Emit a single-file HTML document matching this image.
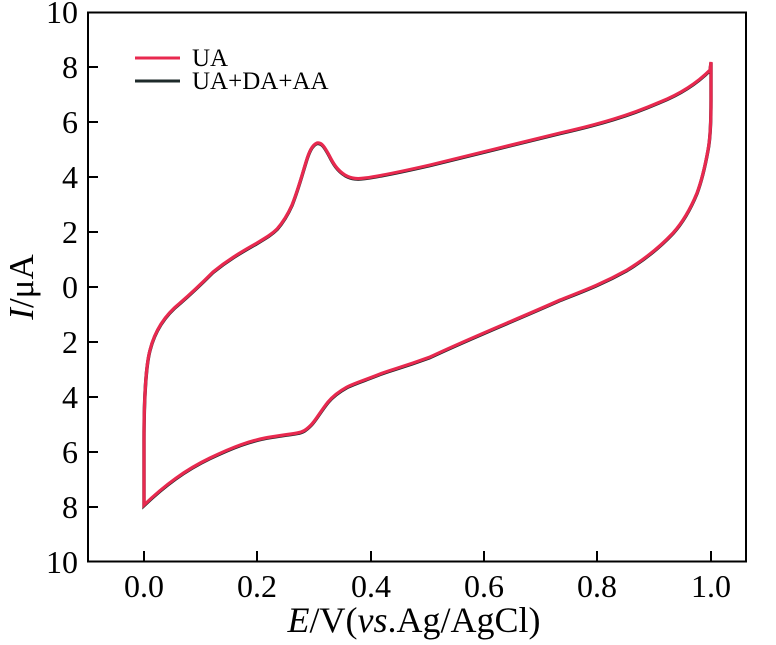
<!DOCTYPE html>
<html><head><meta charset="utf-8"><style>
body{margin:0;background:#fff}
svg text{font-family:"Liberation Serif",serif;fill:#000}
</style></head><body>
<svg width="776" height="640" viewBox="0 0 776 640" xmlns="http://www.w3.org/2000/svg">
<rect x="88" y="12.5" width="658" height="549" fill="none" stroke="#000" stroke-width="2"/>
<g stroke="#000" stroke-width="2">
<line x1="88" y1="67" x2="98" y2="67"/><line x1="88" y1="122" x2="98" y2="122"/>
<line x1="88" y1="177" x2="98" y2="177"/><line x1="88" y1="232" x2="98" y2="232"/>
<line x1="88" y1="287" x2="98" y2="287"/><line x1="88" y1="342" x2="98" y2="342"/>
<line x1="88" y1="397" x2="98" y2="397"/><line x1="88" y1="452" x2="98" y2="452"/>
<line x1="88" y1="507" x2="98" y2="507"/>
<line x1="144" y1="561" x2="144" y2="551"/><line x1="257" y1="561" x2="257" y2="551"/>
<line x1="371" y1="561" x2="371" y2="551"/><line x1="484" y1="561" x2="484" y2="551"/>
<line x1="597" y1="561" x2="597" y2="551"/><line x1="711" y1="561" x2="711" y2="551"/>
</g>
<g font-size="32" text-anchor="end">
<text x="78" y="23">10</text><text x="78" y="78">8</text><text x="78" y="133">6</text>
<text x="78" y="188">4</text><text x="78" y="243">2</text><text x="78" y="298">0</text>
<text x="78" y="353">2</text><text x="78" y="408">4</text><text x="78" y="463">6</text>
<text x="78" y="518">8</text><text x="78" y="573">10</text>
</g>
<g font-size="32" text-anchor="middle">
<text x="144" y="597">0.0</text><text x="257" y="597">0.2</text><text x="371" y="597">0.4</text>
<text x="484" y="597">0.6</text><text x="597" y="597">0.8</text><text x="711" y="597">1.0</text>
</g>
<text x="414" y="632" font-size="36" text-anchor="middle"><tspan font-style="italic">E</tspan>/V(<tspan font-style="italic">vs</tspan>.Ag/AgCl)</text>
<text transform="translate(33,287) rotate(-90)" font-size="35" text-anchor="middle"><tspan font-style="italic">I</tspan>/μA</text>
<line x1="135" y1="58" x2="180" y2="58" stroke="#e8294f" stroke-width="3"/>
<line x1="135" y1="81" x2="180" y2="81" stroke="#1e2a2a" stroke-width="3"/>
<text x="192" y="66" font-size="25">UA</text>
<text x="192" y="89" font-size="25">UA+DA+AA</text>
<path d="M144,505 L144,440 C144,400 146,365 150,350 C155,330 165,315 180,303 C195,290 205,280 213,272 C230,258 245,250 257,243 C267,237 272,234 277,229 C284,221 288,214 292,205 C298,190 302,175 306,162 C309,152 312,145 317,143 C322,142 325,148 329,155 C333,163 337,170 345,175 C352,179 358,179 365,178 C380,176 395,173 430,165 C470,155 520,143 560,133 C600,124 630,115 660,102 C685,92 700,80 710,70 L711,62 L711,100 C711,125 710,140 708,150 C704,172 700,185 697,193 C690,210 682,223 673,233 C657,250 640,262 627,270 C600,285 580,292 560,300 C520,318 470,338 430,357 C400,368 390,370 380,374 C365,380 355,383 347,387 C338,392 333,396 328,402 C320,412 316,420 311,425 C306,430 303,432 297,433 C285,435 275,436 265,438 C250,441 235,446 210,458 C185,470 165,485 144,505 Z" fill="none" stroke="#1e2a2a" stroke-width="3.4" transform="translate(0,0.6)"/>
<path d="M144,505 L144,440 C144,400 146,365 150,350 C155,330 165,315 180,303 C195,290 205,280 213,272 C230,258 245,250 257,243 C267,237 272,234 277,229 C284,221 288,214 292,205 C298,190 302,175 306,162 C309,152 312,145 317,143 C322,142 325,148 329,155 C333,163 337,170 345,175 C352,179 358,179 365,178 C380,176 395,173 430,165 C470,155 520,143 560,133 C600,124 630,115 660,102 C685,92 700,80 710,70 L711,62 L711,100 C711,125 710,140 708,150 C704,172 700,185 697,193 C690,210 682,223 673,233 C657,250 640,262 627,270 C600,285 580,292 560,300 C520,318 470,338 430,357 C400,368 390,370 380,374 C365,380 355,383 347,387 C338,392 333,396 328,402 C320,412 316,420 311,425 C306,430 303,432 297,433 C285,435 275,436 265,438 C250,441 235,446 210,458 C185,470 165,485 144,505 Z" fill="none" stroke="#e8294f" stroke-width="3.2"/>
</svg>
</body></html>
